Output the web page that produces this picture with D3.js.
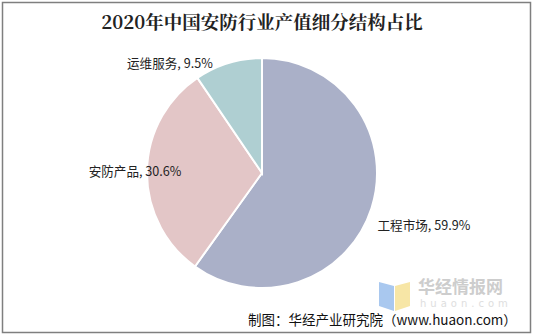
<!DOCTYPE html>
<html><head><meta charset="utf-8">
<script src="https://cdn.jsdelivr.net/npm/d3@7/dist/d3.min.js"></script>
<style>body{margin:0;background:#fff;}svg{display:block;}</style>
</head><body>
<script>
const categories = ["工程市场", "安防产品", "运维服务"];
const values = [59.9, 30.6, 9.5];
const colors = ["#aab0c8", "#e3c6c7", "#afcfd2"];
const title = "2020年中国安防行业产值细分结构占比";
const source = "制图：华经产业研究院（www.huaon.com）";

const W = 533, H = 335;
const svg = d3.select("body").append("svg").attr("width", W).attr("height", H);
svg.append("rect").attr("x", 2.5).attr("y", 2.5).attr("width", W - 5).attr("height", H - 5)
  .attr("fill", "#fff").attr("stroke", "#7f7f7f").attr("stroke-width", 1.5);

svg.append("text").attr("x", 262).attr("y", 29).attr("text-anchor", "middle")
  .attr("font-family", "'Noto Serif CJK SC','Noto Sans CJK SC',serif").attr("font-weight", "bold")
  .attr("font-size", 18.5).attr("fill", "#222").text(title);

const cx = 262, cy = 173, r = 115;
const data = categories.map((c, i) => ({ c, v: values[i], col: colors[i] }));
const pie = d3.pie().value(d => d.v).sort(null);
const arcs = pie(data);
const arc = d3.arc().innerRadius(0).outerRadius(r);
const g = svg.append("g").attr("transform", `translate(${cx},${cy})`);
g.selectAll("path").data(arcs).join("path").attr("d", arc)
  .attr("fill", d => d.data.col).attr("stroke", "#fff").attr("stroke-width", 2);

// label placement (best-fit style): radius from centre and angular nudge
const labelRadius = [170, 127, 143];
const labelNudge = [0, 0, -23 * Math.PI / 180];
g.selectAll("text.lbl").data(arcs).join("text").attr("class", "lbl")
  .attr("transform", (d, i) => {
    const a = (d.startAngle + d.endAngle) / 2 + labelNudge[i];
    const rr = labelRadius[i];
    return `translate(${Math.sin(a) * rr},${-Math.cos(a) * rr})`;
  })
  .attr("text-anchor", "middle")
  .attr("dy", "0.36em")
  .attr("font-family", "'Noto Sans CJK SC','Microsoft YaHei',sans-serif")
  .attr("font-size", 12.6).attr("fill", "#222")
  .text(d => `${d.data.c}, ${d.data.v}%`);

// watermark
const wm = svg.append("g");
wm.append("path").attr("d", "M379,282 L394,286 L394,311 L379,306 Z").attr("fill", "#a9c8ef");
wm.append("path").attr("d", "M395,286 L410,282 L410,306 L395,311 Z").attr("fill", "#f7e6a6");
wm.append("text").attr("x", 418).attr("y", 293).attr("font-family", "'Noto Sans CJK SC',sans-serif")
  .attr("font-weight", "bold").attr("font-size", 17).attr("fill", "#cdcdcd").text("华经情报网");
wm.append("text").attr("x", 420).attr("y", 307).attr("font-family", "'DejaVu Sans',sans-serif")
  .attr("font-size", 10).attr("letter-spacing", 4).attr("fill", "#dedede").text("huaon.com");

svg.append("text").attr("x", 248).attr("y", 325)
  .attr("font-family", "'Noto Sans CJK SC','Microsoft YaHei',sans-serif")
  .attr("font-size", 13.5).attr("fill", "#111").text(source);
</script>
</body></html>
